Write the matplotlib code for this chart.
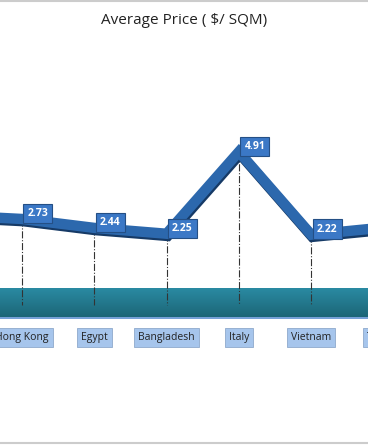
import numpy as np
import matplotlib.pyplot as plt
import matplotlib.patheffects as pe
from matplotlib.colors import LinearSegmentedColormap

plt.rcParams['font.family'] = ['Open Sans', 'DejaVu Sans']

# data (first and last categories are only partly in view)
countries = ['China', 'Hong Kong', 'Egypt', 'Bangladesh', 'Italy', 'Vietnam', 'Turkey']
price = [2.85, 2.73, 2.44, 2.25, 4.91, 2.22, 2.45]
shown = [False, True, True, True, True, True, False]

fig = plt.figure(figsize=(3.68, 4.45), dpi=100)
ax = fig.add_axes([0, 0, 1, 1])
ax.set_xlim(0.696, 5.786)
ax.set_ylim(-4.61, 9.84)
ax.axis('off')

x = np.arange(len(countries))

# teal floor band
grad = np.linspace(0, 1, 50).reshape(-1, 1)
cm = LinearSegmentedColormap.from_list('floor', ['#1c6677', '#2a8aa2'])
ax.imshow(grad, cmap=cm, aspect='auto', extent=(0.696, 5.786, -0.46, 0.46),
          origin='lower', zorder=1)
ax.plot([0.696, 5.786], [-0.49, -0.49], color='#5b8fd0', lw=1.2, zorder=1)

# drop lines
for xi, v in zip(x, price):
    ax.plot([xi, xi], [v, -0.07], color='#333333', lw=0.8, ls='-.', zorder=2)

# main line
ax.plot(x, price, color='#2c68ad', lw=7.5, solid_joinstyle='miter', zorder=3,
        path_effects=[pe.SimpleLineShadow(offset=(0.8, -1.6), shadow_color='#163a66', alpha=1.0),
                      pe.Normal()])

# value labels
for xi, v, s in zip(x, price, shown):
    if not s:
        continue
    ax.annotate(f'{v:.2f}', (xi, v), xytext=(4, 4), textcoords='offset points',
                ha='left', va='center', color='white', fontsize=7.5, fontweight='bold',
                zorder=5,
                bbox=dict(boxstyle='square,pad=0.4', fc='#3b78c6', ec='#244f85', lw=0.8))

# category labels
for xi, c in zip(x, countries):
    ax.text(xi, -1.12, c, ha='center', va='center', fontsize=7.5, color='#222222',
            zorder=5,
            bbox=dict(boxstyle='square,pad=0.4', fc='#a6c5ec', ec='#8ea9cc', lw=0.6))

fig.text(0.5, 0.953, 'Average Price ( $/ SQM)', ha='center', va='center',
         fontsize=11, color='#222222')

# thin gray frame lines top and bottom
fig.add_artist(plt.Line2D([0, 1], [0.998, 0.998], color='#cccccc', lw=1.5))
fig.add_artist(plt.Line2D([0, 1], [0.004, 0.004], color='#cccccc', lw=1.5))

fig.savefig('out.png', dpi=100)
